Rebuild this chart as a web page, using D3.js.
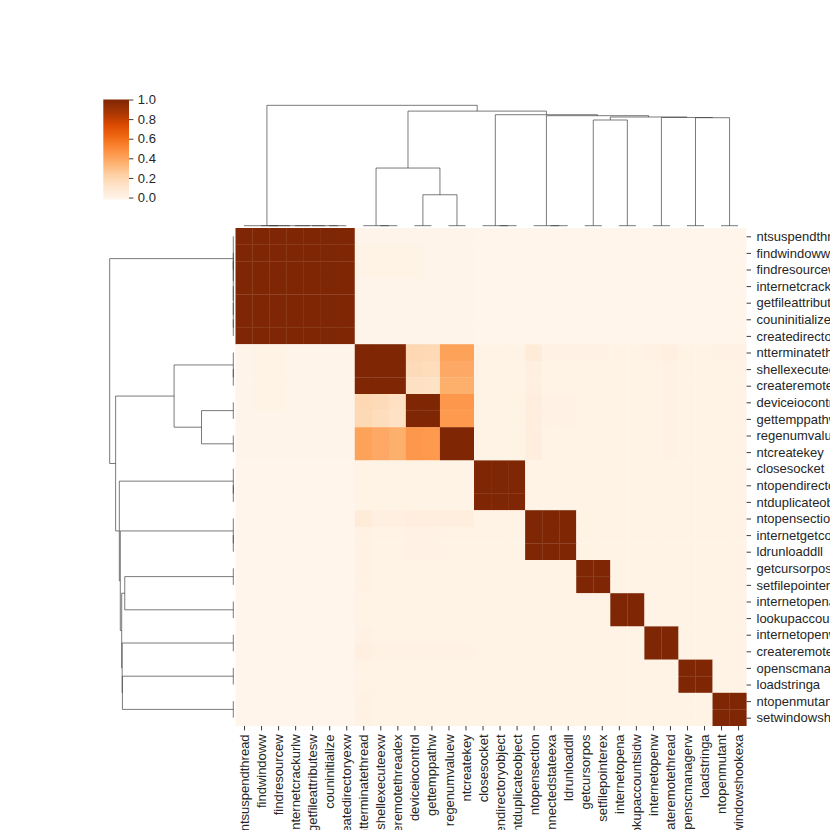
<!DOCTYPE html>
<html><head><meta charset="utf-8">
<script src="https://cdn.jsdelivr.net/npm/d3@7"></script>
<style>
body{margin:0;background:#fff}
svg{display:block}
text{font-family:"Liberation Sans",Arial,Helvetica,sans-serif;fill:#262626}
</style>
</head><body>
<svg id="chart" width="830" height="830"></svg>
<script>
// ---------- DATA ----------
const labels = [
  "ntsuspendthread","findwindoww","findresourcew","internetcrackurlw","getfileattributesw",
  "couninitialize","createdirectoryexw","ntterminatethread","shellexecuteexw","createremotethreadex",
  "deviceiocontrol","gettemppathw","regenumvaluew","ntcreatekey","closesocket",
  "ntopendirectoryobject","ntduplicateobject","ntopensection","internetgetconnectedstateexa","ldrunloaddll",
  "getcursorpos","setfilepointerex","internetopena","lookupaccountsidw","internetopenw",
  "createremotethread","openscmanagerw","loadstringa","ntopenmutant","setwindowshookexa"
];

// correlation matrix (rows/cols in displayed, clustered order)
const corr = [
 [1,1,1,1,1,1,1, -0.01,-0.01,-0.01, -0.01,-0.01, -0.01,-0.01, -0.02,-0.02,-0.02, -0.02,-0.02,-0.02, -0.02,-0.02, -0.02,-0.02, -0.02,-0.02, -0.02,-0.02, -0.02,-0.02],
 [1,1,1,1,1,1,1, 0,0,0, 0,-0.01, -0.01,-0.01, -0.02,-0.02,-0.02, -0.02,-0.02,-0.02, -0.02,-0.02, -0.02,-0.02, -0.02,-0.02, -0.02,-0.02, -0.02,-0.02],
 [1,1,1,1,1,1,1, 0,0,0, 0,-0.01, -0.01,-0.01, -0.02,-0.02,-0.02, -0.02,-0.02,-0.02, -0.02,-0.02, -0.02,-0.02, -0.02,-0.02, -0.02,-0.02, -0.02,-0.02],
 [1,1,1,1,1,1,1, -0.01,-0.01,-0.01, -0.01,-0.01, -0.01,-0.01, -0.02,-0.02,-0.02, -0.02,-0.02,-0.02, -0.02,-0.02, -0.02,-0.02, -0.02,-0.02, -0.02,-0.02, -0.02,-0.02],
 [1,1,1,1,1,1,1, -0.01,-0.01,-0.01, -0.01,-0.01, -0.01,-0.01, -0.02,-0.02,-0.02, -0.02,-0.02,-0.02, -0.02,-0.02, -0.02,-0.02, -0.02,-0.02, -0.02,-0.02, -0.02,-0.02],
 [1,1,1,1,1,1,1, -0.01,-0.01,-0.01, -0.01,-0.01, -0.01,-0.01, -0.02,-0.02,-0.02, -0.02,-0.02,-0.02, -0.02,-0.02, -0.02,-0.02, -0.02,-0.02, -0.02,-0.02, -0.02,-0.02],
 [1,1,1,1,1,1,1, -0.01,-0.01,-0.01, -0.01,-0.01, -0.01,-0.01, -0.02,-0.02,-0.02, -0.02,-0.02,-0.02, -0.02,-0.02, -0.02,-0.02, -0.02,-0.02, -0.02,-0.02, -0.02,-0.02],
 [-0.01,0,0,-0.01,-0.01,-0.01,-0.01, 1,1,1, 0.19,0.18, 0.41,0.41, 0,0,0, 0.06,0.01,0.01, 0.01,0.01, 0,0, 0.01,0.03, 0,0, 0.01,0.01],
 [-0.01,0,0,-0.01,-0.01,-0.01,-0.01, 1,1,1, 0.17,0.16, 0.38,0.38, 0,0,0, 0.03,0,0, 0,0, 0,0, 0,0.01, 0,0, 0,0],
 [-0.01,0,0,-0.01,-0.01,-0.01,-0.01, 1,1,1, 0.14,0.13, 0.36,0.36, 0,0,0, 0.03,0,0, 0,0, 0,0, 0,0.01, 0,0, 0,0],
 [-0.01,0,0,-0.01,-0.01,-0.01,-0.01, 0.19,0.17,0.14, 1,1, 0.45,0.45, 0,0,0, 0.04,0.01,0.01, 0,0, 0,0, 0,0.01, 0,0, 0,0],
 [-0.01,-0.01,-0.01,-0.01,-0.01,-0.01,-0.01, 0.18,0.16,0.13, 1,1, 0.44,0.44, 0,0,0, 0.04,0.01,0.01, 0,0, 0,0, 0,0.01, 0,0, 0,0],
 [-0.01,-0.01,-0.01,-0.01,-0.01,-0.01,-0.01, 0.41,0.38,0.36, 0.45,0.44, 1,1, 0,0,0, 0.04,0,0, 0,0, 0,0, 0,0.01, 0,0, 0,0],
 [-0.01,-0.01,-0.01,-0.01,-0.01,-0.01,-0.01, 0.41,0.38,0.36, 0.45,0.44, 1,1, 0,0,0, 0.04,0,0, 0,0, 0,0, 0,0.01, 0,0, 0,0],
 [-0.02,-0.02,-0.02,-0.02,-0.02,-0.02,-0.02, 0,0,0, 0,0, 0,0, 1,1,1, 0,0,0, 0,0, 0,0, 0,0, 0,0, 0,0],
 [-0.02,-0.02,-0.02,-0.02,-0.02,-0.02,-0.02, 0,0,0, 0,0, 0,0, 1,1,1, 0,0,0, 0,0, 0,0, 0,0, 0,0, 0,0],
 [-0.02,-0.02,-0.02,-0.02,-0.02,-0.02,-0.02, 0,0,0, 0,0, 0,0, 1,1,1, 0,0,0, 0,0, 0,0, 0,0, 0,0, 0,0],
 [-0.02,-0.02,-0.02,-0.02,-0.02,-0.02,-0.02, 0.06,0.03,0.03, 0.04,0.04, 0.04,0.04, 0,0,0, 1,1,1, 0,0, 0,0, 0,0, 0,0, 0,0],
 [-0.02,-0.02,-0.02,-0.02,-0.02,-0.02,-0.02, 0.01,0,0, 0.01,0.01, 0,0, 0,0,0, 1,1,1, 0,0, 0,0, 0,0, 0,0, 0,0],
 [-0.02,-0.02,-0.02,-0.02,-0.02,-0.02,-0.02, 0.01,0,0, 0.01,0.01, 0,0, 0,0,0, 1,1,1, 0,0, 0,0, 0,0, 0,0, 0,0],
 [-0.02,-0.02,-0.02,-0.02,-0.02,-0.02,-0.02, 0.01,0,0, 0,0, 0,0, 0,0,0, 0,0,0, 1,1, 0,0, 0,0, 0,0, 0,0],
 [-0.02,-0.02,-0.02,-0.02,-0.02,-0.02,-0.02, 0.01,0,0, 0,0, 0,0, 0,0,0, 0,0,0, 1,1, 0,0, 0,0, 0,0, 0,0],
 [-0.02,-0.02,-0.02,-0.02,-0.02,-0.02,-0.02, 0,0,0, 0,0, 0,0, 0,0,0, 0,0,0, 0,0, 1,1, 0,0, 0,0, 0,0],
 [-0.02,-0.02,-0.02,-0.02,-0.02,-0.02,-0.02, 0,0,0, 0,0, 0,0, 0,0,0, 0,0,0, 0,0, 1,1, 0,0, 0,0, 0,0],
 [-0.02,-0.02,-0.02,-0.02,-0.02,-0.02,-0.02, 0.01,0,0, 0,0, 0,0, 0,0,0, 0,0,0, 0,0, 0,0, 1,1, 0,0, 0,0],
 [-0.02,-0.02,-0.02,-0.02,-0.02,-0.02,-0.02, 0.03,0.01,0.01, 0.01,0.01, 0.01,0.01, 0,0,0, 0,0,0, 0,0, 0,0, 1,1, 0,0, 0,0],
 [-0.02,-0.02,-0.02,-0.02,-0.02,-0.02,-0.02, 0,0,0, 0,0, 0,0, 0,0,0, 0,0,0, 0,0, 0,0, 0,0, 1,1, 0,0],
 [-0.02,-0.02,-0.02,-0.02,-0.02,-0.02,-0.02, 0,0,0, 0,0, 0,0, 0,0,0, 0,0,0, 0,0, 0,0, 0,0, 1,1, 0,0],
 [-0.02,-0.02,-0.02,-0.02,-0.02,-0.02,-0.02, 0.01,0,0, 0,0, 0,0, 0,0,0, 0,0,0, 0,0, 0,0, 0,0, 0,0, 1,1],
 [-0.02,-0.02,-0.02,-0.02,-0.02,-0.02,-0.02, 0.01,0,0, 0,0, 0,0, 0,0,0, 0,0,0, 0,0, 0,0, 0,0, 0,0, 1,1]
];

// hierarchical linkage (scipy style): [left, right, distance]; leaves 0..29 in displayed order,
// merged nodes numbered 30, 31, ... in the order listed
const linkage = [
  [5,6,0],[4,30,0],[3,31,0],[1,2,0],[33,32,0],[0,34,0],          // 30..35
  [8,9,0],[7,36,0],[10,11,0],[12,13,0],[38,39,0.257],[37,40,0.479], // 36..41
  [15,16,0],[14,42,0],[18,19,0],[17,44,0],                        // 42..45
  [20,21,0],[22,23,0],[24,25,0],[26,27,0],[28,29,0],               // 46..50
  [46,47,0.878],[49,50,0.897],[48,52,0.899],[51,53,0.903],         // 51..54
  [45,54,0.914],[43,55,0.922],[41,56,0.952],[35,57,1.0]            // 55..58
];

const cbarTicks = [0.0, 0.2, 0.4, 0.6, 0.8, 1.0];
const orangesColors = ["#fff5eb","#fee6ce","#fdd0a2","#fdae6b","#fd8d3c","#f16913","#d94801","#a63603","#7f2704"];

// ---------- LAYOUT ----------
const svg = d3.select("#chart");
const n = labels.length;
const heat = {x0:235.5, x1:746.6, y0:228, y1:726};
const colDen = {base:225.7, top:99.3};
const rowDen = {base:233.3, left:103.5};
const cbar = {x:103.3, w:25.7, y0:99.5, y1:199.5};
const fontSize = 13;
const ink = "#262626";

const xBand = d3.scaleBand().domain(d3.range(n)).range([heat.x0, heat.x1]).paddingInner(0);
const yBand = d3.scaleBand().domain(d3.range(n)).range([heat.y0, heat.y1]).paddingInner(0);
const xLeaf = d3.scaleLinear().domain([0, n-1]).range([xBand(0)+xBand.bandwidth()/2, xBand(n-1)+xBand.bandwidth()/2]);
const yLeaf = d3.scaleLinear().domain([0, n-1]).range([yBand(0)+yBand.bandwidth()/2, yBand(n-1)+yBand.bandwidth()/2]);

const ext = d3.extent(corr.flat());
const cmap = d3.scaleLinear().domain(d3.range(orangesColors.length).map(i=>i/(orangesColors.length-1)))
  .range(orangesColors).interpolate(d3.interpolateRgb).clamp(true);
const norm = d3.scaleLinear().domain(ext).range([0,1]).clamp(true);
const color = v => cmap(norm(v));

// ---------- HEATMAP ----------
const cells = [];
corr.forEach((row,i)=>row.forEach((v,j)=>cells.push({i,j,v})));
const ov = 0.25; // slight overlap to soften seams
svg.append("g").selectAll("rect").data(cells).join("rect")
  .attr("x", d=>xBand(d.j)).attr("y", d=>yBand(d.i))
  .attr("width", d=> xBand.bandwidth() + (d.j<n-1?ov:0))
  .attr("height", d=> yBand.bandwidth() + (d.i<n-1?ov:0))
  .attr("fill", d=>color(d.v));

// ---------- DENDROGRAMS ----------
function dendroSegments(link, nLeaves){
  const pos = d3.range(nLeaves), hts = new Array(nLeaves).fill(0), segs = [];
  link.forEach(([a,b,h])=>{
    segs.push([[pos[a],hts[a]],[pos[a],h],[pos[b],h],[pos[b],hts[b]]]);
    pos.push((pos[a]+pos[b])/2); hts.push(h);
  });
  return segs;
}
const segs = dendroSegments(linkage, n);
const maxH = d3.max(linkage, d=>d[2]);

const hCol = d3.scaleLinear().domain([0, maxH*1.05]).range([colDen.base, colDen.top]);
const hRow = d3.scaleLinear().domain([0, maxH*1.05]).range([rowDen.base, rowDen.left]);

const colLine = d3.line().x(p=>xLeaf(p[0])).y(p=>hCol(p[1]));
const rowLine = d3.line().x(p=>hRow(p[1])).y(p=>yLeaf(p[0]));

svg.append("g").selectAll("path").data(segs).join("path")
  .attr("d", colLine).attr("fill","none").attr("stroke","#333").attr("stroke-width",0.65);
svg.append("g").selectAll("path").data(segs).join("path")
  .attr("d", rowLine).attr("fill","none").attr("stroke","#333").attr("stroke-width",0.65);

// ---------- AXES ----------
const rightAxis = d3.axisRight(d3.scaleOrdinal().domain(d3.range(n)).range(d3.range(n).map(i=>yLeaf(i))))
  .tickSize(4.4).tickPadding(5.5).tickFormat(i=>labels[i]);
const gR = svg.append("g").attr("transform",`translate(${heat.x1},0)`).call(rightAxis);
gR.select(".domain").remove();
gR.selectAll("line").attr("stroke", ink).attr("stroke-width",0.9);
gR.selectAll("text").attr("font-size", fontSize).attr("fill", ink)
  .attr("font-family", '"Liberation Sans",Arial,sans-serif');

const bottomAxis = d3.axisBottom(d3.scaleOrdinal().domain(d3.range(n)).range(d3.range(n).map(i=>xLeaf(i))))
  .tickSize(4.4).tickPadding(4.4).tickFormat(i=>labels[i]);
const gB = svg.append("g").attr("transform",`translate(0,${heat.y1})`).call(bottomAxis);
gB.select(".domain").remove();
gB.selectAll("line").attr("stroke", ink).attr("stroke-width",0.9);
gB.selectAll("text").attr("font-size", fontSize).attr("fill", ink)
  .attr("font-family", '"Liberation Sans",Arial,sans-serif')
  .attr("transform","rotate(-90)").attr("text-anchor","end")
  .attr("x", -8.4).attr("y", 0).attr("dy","0.35em");

// ---------- COLORBAR ----------
const defs = svg.append("defs");
const grad = defs.append("linearGradient").attr("id","cb").attr("x1",0).attr("y1",1).attr("x2",0).attr("y2",0);
grad.selectAll("stop").data(d3.range(0,1.0001,0.02)).join("stop")
  .attr("offset", t=>t).attr("stop-color", t=>cmap(t));
svg.append("rect").attr("x",cbar.x).attr("y",cbar.y0).attr("width",cbar.w).attr("height",cbar.y1-cbar.y0)
  .attr("fill","url(#cb)");
const cbScale = d3.scaleLinear().domain(ext).range([cbar.y1, cbar.y0]);
const cbAxis = d3.axisRight(cbScale).tickValues(cbarTicks).tickFormat(d3.format(".1f")).tickSize(4.4).tickPadding(4.4);
const gC = svg.append("g").attr("transform",`translate(${cbar.x+cbar.w},0)`).call(cbAxis);
gC.select(".domain").remove();
gC.selectAll("line").attr("stroke", ink).attr("stroke-width",0.9);
gC.selectAll("text").attr("font-size", fontSize).attr("fill", ink)
  .attr("font-family", '"Liberation Sans",Arial,sans-serif');
</script>
</body></html>
